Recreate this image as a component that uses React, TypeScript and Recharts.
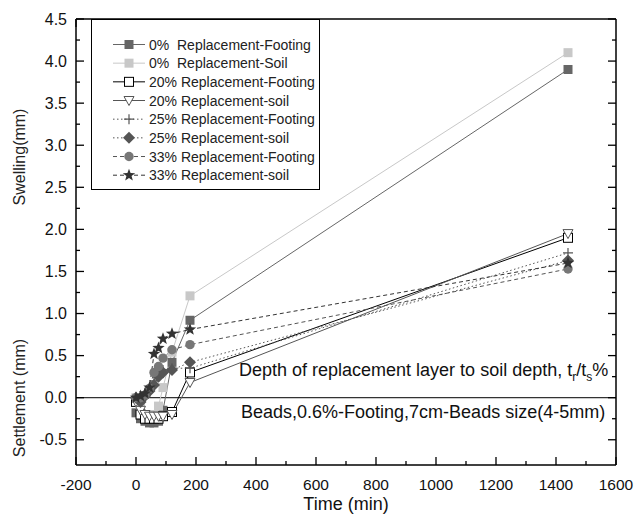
import { Line, LineChart, ReferenceLine, XAxis, YAxis } from 'recharts'

// time in minutes
const times = [0, 15, 30, 45, 60, 75, 90, 120, 180, 1440]

// swelling / settlement (mm)
const footing0 = [-0.18, -0.25, -0.28, -0.3, -0.3, -0.28, -0.15, 0.42, 0.92, 3.9]
const soil0 = [0.0, -0.1, -0.2, -0.22, -0.2, -0.1, 0.12, 0.54, 1.21, 4.1]
const footing20 = [-0.05, -0.2, -0.25, -0.25, -0.25, -0.25, -0.22, -0.17, 0.3, 1.9]
const soil20 = [-0.05, -0.15, -0.2, -0.22, -0.22, -0.22, -0.22, -0.2, 0.18, 1.95]
const footing25 = [0.0, -0.05, 0.05, 0.1, 0.2, 0.3, 0.33, 0.35, 0.35, 1.72]
const soil25 = [0.0, -0.05, 0.02, 0.08, 0.15, 0.25, 0.3, 0.33, 0.42, 1.63]
const footing33 = [0.0, 0.0, 0.03, 0.11, 0.3, 0.37, 0.47, 0.57, 0.63, 1.53]
const soil33 = [0.0, 0.02, 0.05, 0.12, 0.52, 0.59, 0.7, 0.76, 0.81, 1.6]

const xTicks = [-200, -100, 0, 100, 200, 300, 400, 500, 600, 700, 800, 900, 1000, 1100, 1200, 1300, 1400, 1500, 1600]
const yTicks = [-0.75, -0.5, -0.25, 0, 0.25, 0.5, 0.75, 1, 1.25, 1.5, 1.75, 2, 2.25, 2.5, 2.75, 3, 3.25, 3.5, 3.75, 4, 4.25, 4.5]

type Shape = 'square' | 'triangle' | 'plus' | 'diamond' | 'circle' | 'star'

const series: { key: string; name: string; values: number[]; color: string; dash?: string; shape: Shape; fill: string }[] = [
  { key: 'footing0', name: '0%  Replacement-Footing', values: footing0, color: '#666666', shape: 'square', fill: '#666666' },
  { key: 'soil0', name: '0%  Replacement-Soil', values: soil0, color: '#c8c8c8', shape: 'square', fill: '#c8c8c8' },
  { key: 'footing20', name: '20% Replacement-Footing', values: footing20, color: '#000000', shape: 'square', fill: '#ffffff' },
  { key: 'soil20', name: '20% Replacement-soil', values: soil20, color: '#555555', shape: 'triangle', fill: '#ffffff' },
  { key: 'footing25', name: '25% Replacement-Footing', values: footing25, color: '#555555', dash: '1.5 2.5', shape: 'plus', fill: '#555555' },
  { key: 'soil25', name: '25% Replacement-soil', values: soil25, color: '#555555', dash: '1.5 2.5', shape: 'diamond', fill: '#555555' },
  { key: 'footing33', name: '33% Replacement-Footing', values: footing33, color: '#555555', dash: '4 3', shape: 'circle', fill: '#777777' },
  { key: 'soil33', name: '33% Replacement-soil', values: soil33, color: '#333333', dash: '4 3', shape: 'star', fill: '#333333' },
]

const chartData = times.map((t, i) => {
  const row: Record<string, number> = { t }
  for (const s of series) row[s.key] = s.values[i]
  return row
})

function Marker({ shape, cx, cy, color, fill }: { shape: Shape; cx: number; cy: number; color: string; fill: string }) {
  switch (shape) {
    case 'square':
      return <rect x={cx - 4.5} y={cy - 4.5} width={9} height={9} fill={fill} stroke={fill === '#ffffff' ? color : 'none'} strokeWidth={1} />
    case 'triangle':
      return <polygon points={`${cx - 5},${cy - 4} ${cx + 5},${cy - 4} ${cx},${cy + 5}`} fill={fill} stroke={color} strokeWidth={1} />
    case 'plus':
      return <path d={`M${cx - 5},${cy}H${cx + 5}M${cx},${cy - 5}V${cy + 5}`} stroke={color} strokeWidth={1.2} />
    case 'diamond':
      return <polygon points={`${cx},${cy - 6} ${cx + 6},${cy} ${cx},${cy + 6} ${cx - 6},${cy}`} fill={fill} />
    case 'circle':
      return <circle cx={cx} cy={cy} r={4.7} fill={fill} />
    default: {
      const pts: string[] = []
      for (let k = 0; k < 10; k++) {
        const r = k % 2 === 0 ? 6.5 : 2.7
        const a = -Math.PI / 2 + (k * Math.PI) / 5
        pts.push(`${cx + r * Math.cos(a)},${cy + r * Math.sin(a)}`)
      }
      return <polygon points={pts.join(' ')} fill={fill} />
    }
  }
}

const isMajorX = (v: number) => v % 200 === 0
const isMajorY = (v: number) => Math.abs(v * 2 - Math.round(v * 2)) < 1e-6 && v > -0.6

function BottomTick({ x, y, payload }: any) {
  const major = isMajorX(payload.value)
  return (
    <g>
      <line x1={x} x2={x} y1={y} y2={y - (major ? 8 : 4)} stroke="#000" strokeWidth={1.3} />
      {major && (
        <text x={x} y={y + 25} textAnchor="middle" fontSize={15.5} fill="#111">
          {payload.value}
        </text>
      )}
    </g>
  )
}

function TopTick({ x, y, payload }: any) {
  const major = isMajorX(payload.value)
  return <line x1={x} x2={x} y1={y} y2={y + (major ? 8 : 4)} stroke="#000" strokeWidth={1.3} />
}

function LeftTick({ x, y, payload }: any) {
  if (payload.value < -0.7) return <g />
  const major = isMajorY(payload.value)
  return (
    <g>
      <line x1={x} x2={x + (major ? 8 : 4)} y1={y} y2={y} stroke="#000" strokeWidth={1.3} />
      {major && (
        <text x={x - 9} y={y + 5.5} textAnchor="end" fontSize={16} fill="#111">
          {payload.value.toFixed(1)}
        </text>
      )}
    </g>
  )
}

function RightTick({ x, y, payload }: any) {
  if (payload.value < -0.7) return <g />
  const major = isMajorY(payload.value)
  return <line x1={x} x2={x - (major ? 8 : 4)} y1={y} y2={y} stroke="#000" strokeWidth={1.3} />
}

function LegendBox() {
  return (
    <div
      style={{
        position: 'absolute',
        left: 91,
        top: 19,
        width: 229,
        height: 171,
        border: '1px solid #000',
        boxSizing: 'border-box',
        background: '#fff',
      }}
    >
      <svg width={227} height={169} style={{ position: 'absolute', left: 0, top: 0 }}>
        {series.map((s, i) => {
          const cy = 24.5 + i * 18.67
          return (
            <g key={s.key}>
              <line x1={21} x2={53} y1={cy} y2={cy} stroke={s.color} strokeWidth={1} strokeDasharray={s.dash} />
              <Marker shape={s.shape} cx={37} cy={cy} color={s.color} fill={s.fill} />
              <text x={57} y={cy + 5} fontSize={14} fill="#222" style={{ whiteSpace: 'pre' }}>
                {s.name}
              </text>
            </g>
          )
        })}
      </svg>
    </div>
  )
}

export default function App() {
  return (
    <div
      style={{
        position: 'relative',
        width: 635,
        height: 515,
        overflow: 'hidden',
        fontFamily: '"Liberation Sans", Arial, sans-serif',
      }}
    >
      <style>{'html, body { margin: 0; padding: 0; overflow: hidden; }'}</style>
      <LineChart width={635} height={515} data={chartData} margin={{ top: 18, right: 18, bottom: 0, left: 8 }}>
        <XAxis
          dataKey="t"
          type="number"
          domain={[-200, 1600]}
          allowDataOverflow
          ticks={xTicks}
          interval={0}
          height={50}
          tickSize={0}
          tickMargin={0}
          tickLine={false}
          tick={<BottomTick />}
          axisLine={{ stroke: '#000', strokeWidth: 1.5 }}
        />
        <XAxis
          xAxisId="top"
          orientation="top"
          type="number"
          domain={[-200, 1600]}
          allowDataOverflow
          ticks={xTicks}
          interval={0}
          height={1}
          tickSize={0}
          tickMargin={0}
          tickLine={false}
          tick={<TopTick />}
          axisLine={{ stroke: '#000', strokeWidth: 1.5 }}
        />
        <YAxis
          type="number"
          domain={[-0.8, 4.5]}
          allowDataOverflow
          ticks={yTicks}
          interval={0}
          width={68}
          tickSize={0}
          tickMargin={0}
          tickLine={false}
          tick={<LeftTick />}
          axisLine={{ stroke: '#000', strokeWidth: 1.5 }}
        />
        <YAxis
          yAxisId="right"
          orientation="right"
          type="number"
          domain={[-0.8, 4.5]}
          allowDataOverflow
          ticks={yTicks}
          interval={0}
          width={1}
          tickSize={0}
          tickMargin={0}
          tickLine={false}
          tick={<RightTick />}
          axisLine={{ stroke: '#000', strokeWidth: 1.5 }}
        />
        <ReferenceLine y={0} stroke="#333" strokeWidth={1.3} />
        {series.map((s) => (
          <Line
            key={s.key}
            dataKey={s.key}
            name={s.name}
            type="linear"
            stroke={s.color}
            strokeWidth={1}
            strokeDasharray={s.dash}
            isAnimationActive={false}
            activeDot={false}
            dot={(p: any) => (
              <g key={`${s.key}-${p.index}`}>
                <Marker shape={s.shape} cx={p.cx} cy={p.cy} color={s.color} fill={s.fill} />
              </g>
            )}
          />
        ))}
      </LineChart>
      <svg width={635} height={515} style={{ position: 'absolute', left: 0, top: 0, pointerEvents: 'none' }}>
        <text x={25} y={157} transform="rotate(-90 25 157)" textAnchor="middle" fontSize={16} fill="#222">
          Swelling(mm)
        </text>
        <text x={25} y={398} transform="rotate(-90 25 398)" textAnchor="middle" fontSize={16} fill="#222">
          Settlement (mm)
        </text>
        <text x={346} y={510} textAnchor="middle" fontSize={18} fill="#111">
          Time (min)
        </text>
        <text x={239} y={376} fontSize={18} fill="#111">
          Depth of replacement layer to soil depth, t
          <tspan fontSize={12} dy={5}>r</tspan>
          <tspan dy={-5}>/t</tspan>
          <tspan fontSize={12} dy={5}>s</tspan>
          <tspan dy={-5}>%</tspan>
        </text>
        <text x={241} y={418} fontSize={18} fill="#111">
          Beads,0.6%-Footing,7cm-Beads size(4-5mm)
        </text>
      </svg>
      <LegendBox />
    </div>
  )
}
